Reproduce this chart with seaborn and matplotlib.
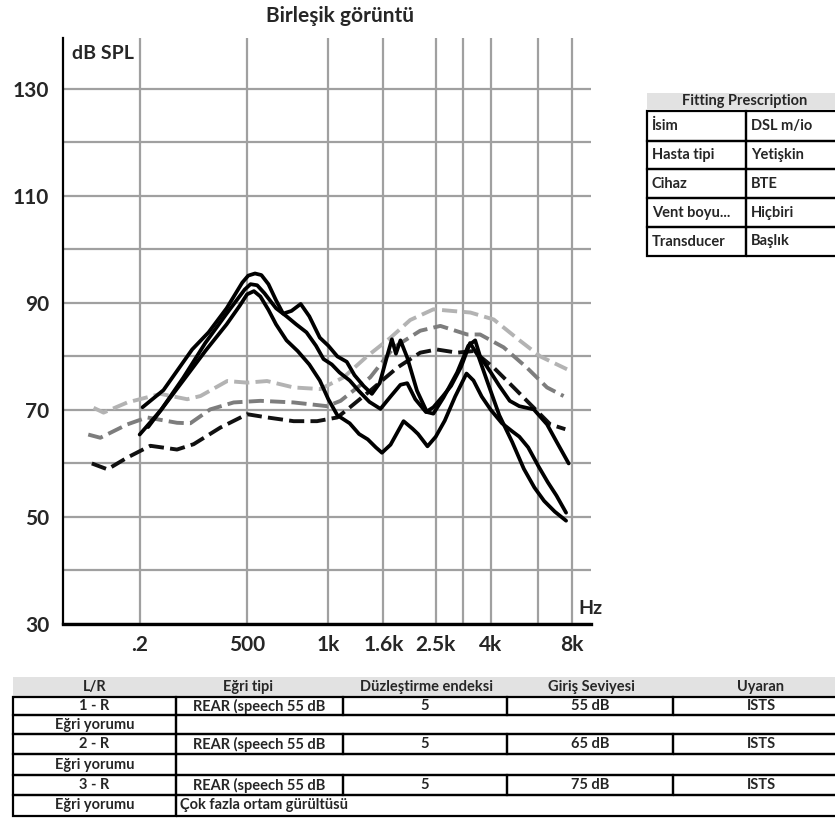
import matplotlib
matplotlib.use("Agg")
import matplotlib.pyplot as plt
from matplotlib.patches import Rectangle
from matplotlib.ticker import NullFormatter
import seaborn as sns

# target curves (dashed), frequency in Hz and level in dB SPL
target_light_f = [135, 147, 180, 239, 300, 336, 422, 500, 593, 744, 934, 1140,
                  1390, 1700, 2010, 2450, 3360, 4100, 5140, 6100, 7660]
target_light_db = [70.4, 69.5, 71.4, 73.0, 72.0, 72.6, 75.4, 75.1, 75.4, 74.2, 73.9,
                   76.1, 80.0, 83.5, 86.8, 88.8, 88.2, 86.9, 82.9, 80.0, 77.6]

target_mid_f = [129, 143, 180, 213, 275, 308, 365, 446, 560, 744, 990, 1110, 1430,
                1750, 2190, 2600, 3270, 3650, 4460, 5440, 6460, 7440]
target_mid_db = [65.4, 64.8, 67.3, 68.6, 67.6, 67.5, 70.1, 71.4, 71.7, 71.4, 70.7,
                 71.7, 76.1, 81.7, 84.8, 85.7, 84.1, 84.1, 81.7, 77.9, 74.2, 72.6]

target_dark_f = [133, 152, 180, 219, 275, 317, 398, 500, 593, 744, 908, 1080, 1170,
                 1430, 1800, 2190, 2520, 3000, 3450, 4100, 4860, 5770, 6640, 7550]
target_dark_db = [60.0, 58.9, 61.1, 63.3, 62.6, 63.6, 66.7, 69.2, 68.6, 67.9, 67.9,
                  68.6, 70.0, 73.6, 77.9, 80.7, 81.3, 80.7, 81.0, 77.9, 74.2, 70.4,
                  67.3, 66.4]

# measured curves (solid)
meas_a_f = [205, 245, 313, 360, 420, 480, 505, 535, 565, 600, 640, 680, 730, 790,
            850, 930, 1000, 1080, 1170, 1250, 1350, 1450, 1550, 1650, 1720, 1780,
            1850, 1960, 2130, 2320, 2450, 2670, 3000, 3300, 3500, 3650, 4000, 4300,
            4700, 5100, 5770, 6460, 7000, 7770]
meas_a_db = [70.5, 73.7, 81.3, 84.5, 89.0, 93.8, 95.1, 95.5, 95.2, 93.5, 90.5, 88.0,
             88.5, 89.8, 87.5, 83.5, 82.0, 80.0, 79.0, 76.5, 74.5, 73.0, 75.0, 80.0,
             83.2, 80.5, 83.0, 79.8, 73.6, 69.6, 69.3, 72.3, 77.0, 82.0, 83.0, 80.0,
             77.0, 74.5, 71.7, 70.7, 70.1, 67.3, 64.1, 60.0]

meas_b_f = [215, 240, 290, 350, 420, 490, 515, 545, 580, 640, 700, 760, 830, 900,
            960, 1030, 1100, 1200, 1300, 1420, 1560, 1700, 1850, 1960, 2100, 2300,
            2450, 2650, 2850, 3100, 3350, 3600, 3900, 4300, 4800, 5300, 5800, 6300,
            6900, 7600]
meas_b_db = [66.8, 70.0, 76.0, 82.5, 88.0, 92.5, 93.5, 93.3, 91.8, 89.0, 87.5, 86.0,
             84.5, 82.0, 79.5, 78.5, 77.0, 75.5, 73.5, 71.5, 70.2, 72.5, 74.7, 75.0,
             72.0, 69.6, 70.5, 72.5, 74.5, 78.0, 82.5, 80.0, 75.0, 69.0, 64.0, 59.0,
             55.5, 53.0, 51.0, 49.3]

meas_c_f = [200, 240, 290, 350, 420, 470, 500, 530, 560, 600, 640, 700, 770, 850,
            930, 1000, 1080, 1200, 1300, 1400, 1500, 1580, 1700, 1900, 2050, 2150,
            2330, 2500, 2700, 2950, 3250, 3450, 3700, 4000, 4400, 4800, 5100, 5500,
            6000, 6500, 7000, 7600]
meas_c_db = [65.4, 70.0, 75.5, 81.0, 86.0, 89.5, 91.6, 92.2, 91.2, 88.7, 86.0, 83.0,
             81.0, 78.5, 75.5, 72.0, 69.0, 67.5, 65.5, 64.5, 63.0, 62.0, 63.5, 67.9,
             66.5, 65.5, 63.2, 65.0, 68.0, 72.5, 76.8, 75.5, 72.5, 70.0, 67.5, 66.0,
             65.0, 63.0, 59.5, 56.5, 54.0, 50.8]

# axis ticks
x_tick_freqs = [200, 500, 1000, 1600, 2500, 4000, 8000]
x_tick_labels = ['.2', '500', '1k', '1.6k', '2.5k', '4k', '8k']
x_extra_grid = [3150, 6000]
y_ticks = [30, 50, 70, 90, 110, 130]
y_extra_grid = [40, 60, 80, 100, 120]

# right table
presc_keys = ['İsim', 'Hasta tipi', 'Cihaz', 'Vent boyu...', 'Transducer']
presc_vals = ['DSL m/io', 'Yetişkin', 'BTE', 'Hiçbiri', 'Başlık']

# bottom table
col_headers = ['L/R', 'Eğri tipi', 'Düzleştirme endeksi', 'Giriş Seviyesi', 'Uyaran']
curve_ids = ['1 - R', '2 - R', '3 - R']
curve_types = ['REAR (speech 55 dB', 'REAR (speech 55 dB', 'REAR (speech 55 dB']
smoothing = ['5', '5', '5']
input_levels = ['55 dB', '65 dB', '75 dB']
stimuli = ['ISTS', 'ISTS', 'ISTS']
comments = ['', '', 'Çok fazla ortam gürültüsü']

sns.set_style('white')
plt.rcParams['font.family'] = ['Lato', 'DejaVu Sans']

W, H = 835, 819
fig = plt.figure(figsize=(W / 100, H / 100), dpi=100)


def fx(x):
    return x / W


def fy(y):
    return 1 - y / H


ax = fig.add_axes([fx(63), fy(624), (591 - 63) / W, (624 - 38) / H])
ax.set_xscale('log')

# dashed targets first, then measured on top
dash = (0, (3.9, 1.6))
sns.lineplot(x=target_light_f, y=target_light_db, ax=ax, color='#b3b3b3',
             lw=2.8, linestyle=dash, sort=False, estimator=None)
sns.lineplot(x=target_mid_f, y=target_mid_db, ax=ax, color='#7d7d7d',
             lw=2.8, linestyle=dash, sort=False, estimator=None)
sns.lineplot(x=target_dark_f, y=target_dark_db, ax=ax, color='#111111',
             lw=2.8, linestyle=dash, sort=False, estimator=None)
for f, db in [(meas_a_f, meas_a_db), (meas_b_f, meas_b_db), (meas_c_f, meas_c_db)]:
    sns.lineplot(x=f, y=db, ax=ax, color='black', lw=2.7, sort=False,
                 estimator=None, solid_joinstyle='round')

ax.set_xlim(104, 9400)
ax.set_ylim(30, 139.5)
ax.set_xticks(x_tick_freqs)
ax.set_xticklabels(x_tick_labels)
ax.set_xticks(x_extra_grid, minor=True)
ax.xaxis.set_minor_formatter(NullFormatter())
ax.set_yticks(y_ticks)
ax.set_yticks(y_extra_grid, minor=True)
ax.tick_params(which='both', length=0)
ax.tick_params(axis='y', pad=10, labelsize=15)
ax.tick_params(axis='x', pad=8, labelsize=15)
for lab in ax.get_xticklabels() + ax.get_yticklabels():
    lab.set_fontweight('bold')
ax.grid(which='both', color='#a0a0a0', lw=1.6)
ax.set_axisbelow(True)
for s in ['top', 'right']:
    ax.spines[s].set_visible(False)
ax.spines['left'].set_color('black')
ax.spines['left'].set_linewidth(1.6)
ax.spines['bottom'].set_color('black')
ax.spines['bottom'].set_linewidth(2.4)
ax.set_xlabel('')
ax.set_ylabel('')

ax.text(0.017, 0.973, 'dB SPL', transform=ax.transAxes, ha='left', va='center',
        fontsize=14, fontweight='bold')
ax.text(0.998, 0.026, 'Hz', transform=ax.transAxes, ha='center', va='center',
        fontsize=14, fontweight='bold')

fig.text(fx(340), fy(16), 'Birleşik görüntü', ha='center', va='center',
         fontsize=15, fontweight='bold')


def box(x0, y0, x1, y1, face='none', edge='black', lw=1.6):
    fig.add_artist(Rectangle((fx(x0), fy(y1)), fx(x1) - fx(x0), fy(y0) - fy(y1),
                             transform=fig.transFigure, facecolor=face,
                             edgecolor=edge, lw=lw))


# Fitting Prescription table
box(647, 93, 850, 109, face='#e2e2e2', edge='none', lw=0)
fig.text(fx(745), fy(101), 'Fitting Prescription', ha='center', va='center',
         fontsize=10.5, fontweight='bold')
row_y = [111, 141, 169, 198, 227, 256]
for i in range(len(presc_keys)):
    box(647, row_y[i], 746, row_y[i + 1])
    box(746, row_y[i], 850, row_y[i + 1])
    yc = (row_y[i] + row_y[i + 1]) / 2
    fig.text(fx(652), fy(yc), presc_keys[i], ha='left', va='center',
             fontsize=10.5, fontweight='bold')
    fig.text(fx(751), fy(yc), presc_vals[i], ha='left', va='center',
             fontsize=10.5, fontweight='bold')

# bottom table
col_x = [13, 176, 343, 507, 673, 850]
head_x = [95, 248, 426, 591, 761]
box(13, 677, 850, 697, face='#e2e2e2', edge='none', lw=0)
for hx, h in zip(head_x, col_headers):
    fig.text(fx(hx), fy(687), h, ha='center', va='center', fontsize=10.5,
             fontweight='bold')

tab_y = [697, 715, 734, 754, 775, 795, 816]
for k in range(3):
    y0, y1 = tab_y[2 * k], tab_y[2 * k + 1]
    vals = [curve_ids[k], curve_types[k], smoothing[k], input_levels[k], stimuli[k]]
    for c in range(5):
        box(col_x[c], y0, col_x[c + 1], y1)
        fig.text(fx((col_x[c] + col_x[c + 1]) / 2), fy((y0 + y1) / 2), vals[c],
                 ha='center', va='center', fontsize=10.5, fontweight='bold')
    y0, y1 = tab_y[2 * k + 1], tab_y[2 * k + 2]
    box(col_x[0], y0, col_x[1], y1)
    box(col_x[1], y0, col_x[5], y1)
    fig.text(fx((col_x[0] + col_x[1]) / 2), fy((y0 + y1) / 2), 'Eğri yorumu',
             ha='center', va='center', fontsize=10.5, fontweight='bold')
    if comments[k]:
        fig.text(fx(180), fy((y0 + y1) / 2), comments[k], ha='left', va='center',
                 fontsize=10.5, fontweight='bold')

fig.savefig('out.png', dpi=100, facecolor='white')
